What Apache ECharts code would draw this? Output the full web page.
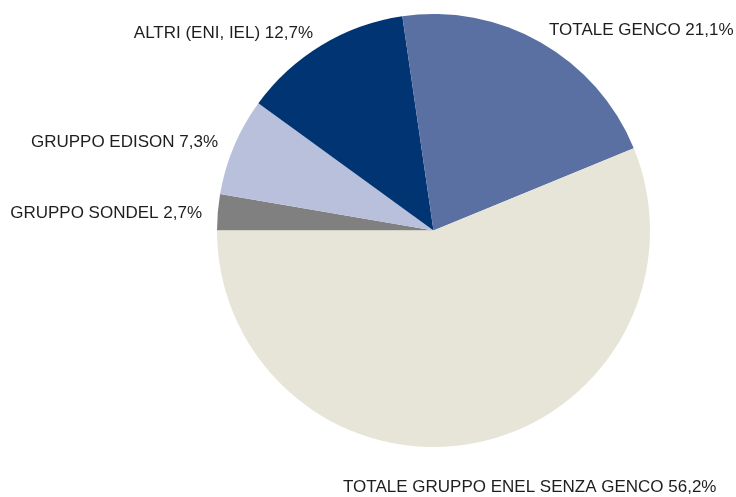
<!DOCTYPE html>
<html>
<head>
<meta charset="utf-8">
<script src="https://cdn.jsdelivr.net/npm/echarts@6/dist/echarts.min.js"></script>
<style>html,body{margin:0;padding:0;background:#fff;}#c{width:736px;height:497px;}</style>
</head>
<body>
<div id="c"></div>
<script>
var categories = ['GRUPPO SONDEL', 'GRUPPO EDISON', 'ALTRI (ENI, IEL)', 'TOTALE GENCO', 'TOTALE GRUPPO ENEL SENZA GENCO'];
var values = [2.7, 7.3, 12.7, 21.1, 56.2];
var colors = ['#808080', '#b8c0dc', '#003472', '#5a6fa2', '#e6e5d8'];
// label anchor styling (x, y, align)
var labelAnchors = [[202, 213, 'right'], [218, 142, 'right'], [313, 33, 'right'], [549, 30, 'left'], [343, 487, 'left']];

var chart = echarts.init(document.getElementById('c'), null, {renderer: 'canvas'});
chart.setOption({
  animation: false,
  backgroundColor: '#ffffff',
  series: [{
    type: 'pie',
    center: [433.5, 230.5],
    radius: [0, 216.5],
    startAngle: 180,
    clockwise: true,
    avoidLabelOverlap: false,
    itemStyle: {borderWidth: 0},
    label: {
      show: true,
      position: 'outside',
      fontFamily: '"Liberation Sans", Arial, sans-serif',
      fontSize: 17,
      color: '#1e1e1e',
      formatter: function (p) { return p.name + ' ' + p.value.toFixed(1).replace('.', ',') + '%'; }
    },
    labelLine: {show: false},
    labelLayout: function (p) {
      var a = labelAnchors[p.dataIndex];
      return {x: a[0], y: a[1], align: a[2], verticalAlign: 'middle'};
    },
    data: categories.map(function (c, i) {
      return {name: c, value: values[i], itemStyle: {color: colors[i]}};
    })
  }]
});
</script>
</body>
</html>
